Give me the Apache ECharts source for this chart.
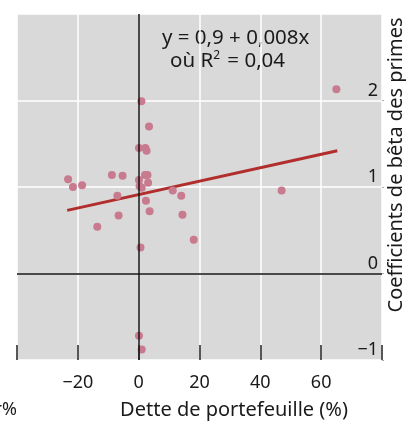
<!DOCTYPE html>
<html>
<head>
<meta charset="utf-8">
<script src="https://cdn.jsdelivr.net/npm/echarts@6/dist/echarts.min.js"></script>
<style>
  html, body { margin: 0; padding: 0; background: #fff; }
  #chart { width: 406px; height: 421px; }
</style>
</head>
<body>
<div id="chart"></div>
<script>
// dette de portefeuille (%) / coefficient bêta
var debtX = [0.9, 3.4, 0.1, 2.2, 2.6, -23.2, -21.6, -18.6, -8.8, -5.3, 2.1, 2.9, 0.1, 3.1, 0.3, 1.0,
  -7.0, 11.2, 14.0, 2.4, 3.6, -6.6, 14.4, -13.6, 18.1, 0.6, 0.1, 1.0, 65.0, 47.0];
var betaY = [1.99, 1.70, 1.45, 1.45, 1.42, 1.09, 1.00, 1.02, 1.14, 1.13, 1.14, 1.14, 1.08, 1.05, 1.01, 0.99,
  0.90, 0.96, 0.90, 0.84, 0.72, 0.67, 0.68, 0.54, 0.39, 0.30, -0.72, -0.88, 2.13, 0.96];
// droite de régression (extrémités)
var fitX = [-23.5, 65.3];
var fitY = [0.73, 1.42];
var xTicks = [-40, 80, 20]; // min, max, pas
var yTicks = [-1, 3, 1];

var FONT = 'Noto Sans';
var chart = echarts.init(document.getElementById('chart'));

function minus(v) {
  return String(v).replace('-', '\u2212');
}

var points = debtX.map(function(x, i) { return [x, betaY[i]]; });
var fit = fitX.map(function(x, i) { return [x, fitY[i]]; });

chart.setOption({
  animation: false,
  textStyle: { fontFamily: FONT },
  grid: {
    left: 17, right: 24, top: 14, bottom: 61,
    show: true, backgroundColor: '#d9d9d9', borderWidth: 0
  },
  xAxis: [{
    type: 'value',
    min: xTicks[0], max: xTicks[1], interval: xTicks[2],
    axisLine: { show: false, onZero: false },
    axisTick: { show: false },
    axisLabel: {
      showMinLabel: false, showMaxLabel: false, margin: 14,
      color: '#1a1a1a', fontSize: 18, fontFamily: FONT,
      formatter: minus
    },
    splitLine: { show: true, lineStyle: { color: '#ffffff', width: 1.5 } }
  }, {
    // graduations du bas, dessinées par-dessus les lignes blanches
    type: 'value',
    position: 'bottom',
    z: 5,
    min: xTicks[0], max: xTicks[1], interval: xTicks[2],
    axisLine: { show: false, onZero: false },
    axisTick: { show: true, inside: true, length: 15, lineStyle: { color: '#222', width: 1.5 } },
    axisLabel: { show: false },
    splitLine: { show: false }
  }],
  yAxis: {
    type: 'value',
    position: 'right',
    min: yTicks[0], max: yTicks[1], interval: yTicks[2],
    axisLine: { show: false, onZero: false },
    axisTick: { show: true, length: 2, lineStyle: { color: '#aaa' } },
    axisLabel: {
      inside: true, showMaxLabel: false, margin: 4,
      verticalAlign: 'bottom', padding: [0, 0, 1, 0],
      color: '#1a1a1a', fontSize: 18, fontFamily: FONT,
      formatter: minus
    },
    splitLine: { show: true, lineStyle: { color: '#ffffff', width: 1.5 } }
  },
  graphic: [
    {
      type: 'text', left: 162, top: 28,
      style: { text: 'y = 0,9 + 0,008x', font: '20.5px "Noto Sans"', fill: '#1a1a1a' }
    },
    {
      type: 'text', left: 170, top: 50,
      style: {
        text: '{a|où R}{s|2}{a| = 0,04}',
        rich: {
          a: { fontSize: 20.5, fontFamily: FONT, fill: '#1a1a1a', verticalAlign: 'bottom' },
          s: { fontSize: 12, fontFamily: FONT, fill: '#1a1a1a', verticalAlign: 'top', padding: [0, 2, 10, 0] }
        }
      }
    },
    {
      type: 'text', x: 234, y: 410,
      style: { text: 'Dette de portefeuille (%)', font: '20px "Noto Sans"', fill: '#1a1a1a',
        textAlign: 'center', textVerticalAlign: 'middle' }
    },
    {
      type: 'text', x: 17, y: 410,
      style: { text: 'r%', font: '18px "Noto Sans"', fill: '#1a1a1a',
        textAlign: 'right', textVerticalAlign: 'middle' }
    },
    {
      type: 'text', x: 396, y: 165, rotation: Math.PI / 2,
      style: { text: 'Coefficients de bêta des primes', font: '20px "Noto Sans"', fill: '#1a1a1a',
        textAlign: 'center', textVerticalAlign: 'middle' }
    }
  ],
  series: [
    {
      type: 'line',
      data: [],
      z: 1,
      silent: true,
      markLine: {
        silent: true,
        symbol: 'none',
        label: { show: false },
        lineStyle: { color: '#111', width: 1.5, type: 'solid' },
        data: [{ xAxis: 0 }, { yAxis: 0 }]
      }
    },
    {
      type: 'line',
      data: fit,
      z: 3,
      symbol: 'none',
      lineStyle: { color: '#b12e2d', width: 3 }
    },
    {
      type: 'scatter',
      data: points,
      z: 4,
      symbolSize: 8,
      itemStyle: { color: '#c87a8e', opacity: 1 }
    }
  ]
});
</script>
</body>
</html>
